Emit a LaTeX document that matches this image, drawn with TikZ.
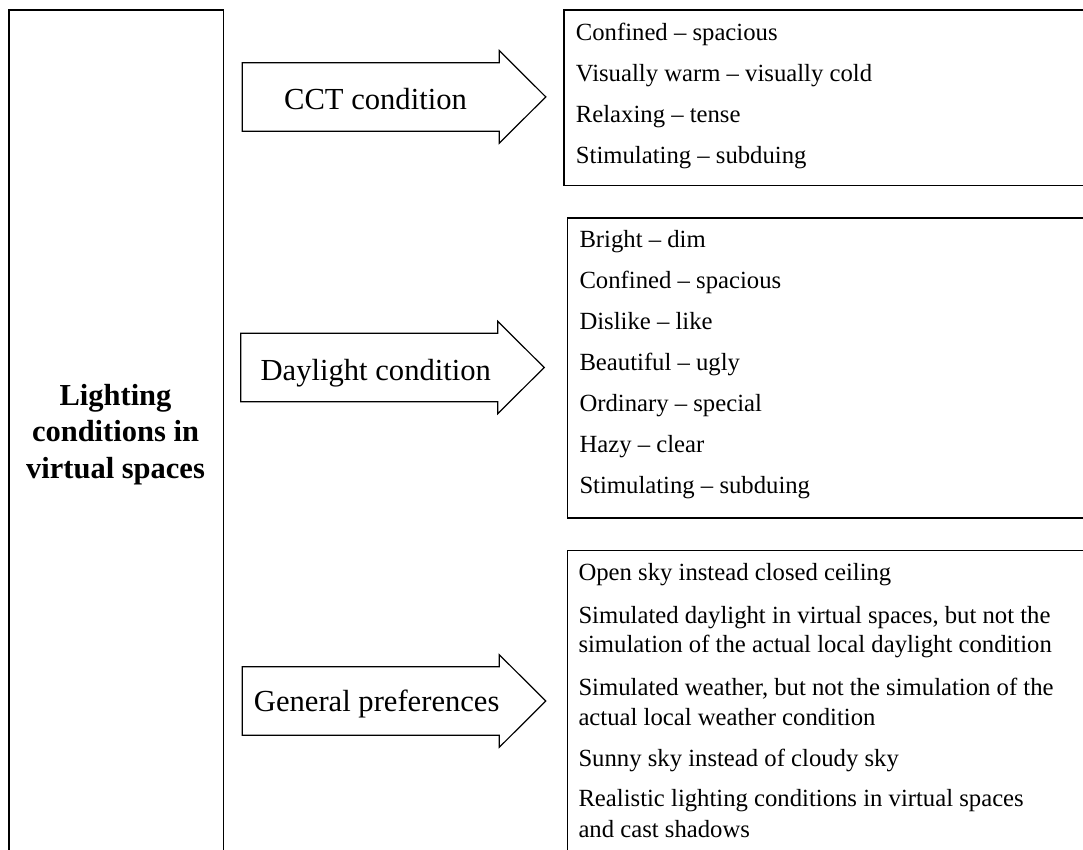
\documentclass[tikz,border=0pt]{standalone}
\usepackage{fontspec}
\setmainfont{Liberation Serif}
\begin{document}
\begin{tikzpicture}[x=1pt,y=-1pt,
  frame/.style={draw=black, line width=1.2pt, inner sep=0pt, anchor=north west},
  blockarrow/.style={draw=black, line width=1.2pt, fill=white, line join=miter},
  item/.style={anchor=base west, inner sep=0pt, font=\fontsize{24.7}{29.6}\selectfont},
  arrowlabel/.style={anchor=base, inner sep=0pt, font=\fontsize{30.6}{36.7}\selectfont},
  titleline/.style={anchor=base, inner sep=0pt, font=\fontsize{30.5}{36.6}\selectfont\bfseries}]

\clip (0,0) rectangle (1083,849);

% main topic column (runs past the lower edge)
\node[frame, minimum width=214.4pt, minimum height=900pt] (topic) at (8.3,9.3) {};
\node[titleline] (t1) at (115.5,405) {Lighting};
\node[titleline] (t2) at (115.5,441.7) {conditions in};
\node[titleline] (t3) at (115.5,478.3) {virtual spaces};

% block arrows: tail centre, shaft 68.5 high, head 92.5 high, 303.5 long
\coordinate (a1) at (242.3,96.9);
\coordinate (a2) at (240.7,367.5);
\coordinate (a3) at (242.3,701);
\foreach \a in {a1,a2,a3}
  \draw[blockarrow] (\a) ++(0,-34.25) -- ++(257,0) -- ++(0,-12) -- ++(46.5,46.25)
    -- ++(-46.5,46.25) -- ++(0,-12) -- ++(-257,0) -- cycle;
\node[arrowlabel] (l1) at (375.5,109.3) {CCT condition};
\node[arrowlabel] (l2) at (375.8,380) {Daylight condition};
\node[arrowlabel] (l3) at (376.7,711.7) {General preferences};

% attribute lists (boxes open to the right edge)
\node[frame, minimum width=530pt, minimum height=175.4pt] (b1) at (563.3,9.3) {};
\node[item] (c1) at (575.7,40.7) {Confined – spacious};
\node[item] (c2) at (575.7,81.7) {Visually warm – visually cold};
\node[item] (c3) at (575.7,122.7) {Relaxing – tense};
\node[item] (c4) at (575.7,163.5) {Stimulating – subduing};

\node[frame, minimum width=530pt, minimum height=300pt] (b2) at (566.7,217.3) {};
\node[item] (d1) at (579.3,247.3) {Bright – dim};
\node[item] (d2) at (579.3,288.3) {Confined – spacious};
\node[item] (d3) at (579.3,329.3) {Dislike – like};
\node[item] (d4) at (579.3,370.4) {Beautiful – ugly};
\node[item] (d5) at (579.3,411.5) {Ordinary – special};
\node[item] (d6) at (579.3,452.6) {Hazy – clear};
\node[item] (d7) at (579.3,493.8) {Stimulating – subduing};

\node[frame, minimum width=530pt, minimum height=350pt] (b3) at (566.7,550) {};
\node[item] (g1) at (578.3,580) {Open sky instead closed ceiling};
\node[item] (g2) at (578.3,623.3) {Simulated daylight in virtual spaces, but not the};
\node[item] (g2b) at (578.3,652.5) {simulation of the actual local daylight condition};
\node[item] (g3) at (578.3,695) {Simulated weather, but not the simulation of the};
\node[item] (g3b) at (578.3,725) {actual local weather condition};
\node[item] (g4) at (578.3,766.7) {Sunny sky instead of cloudy sky};
\node[item] (g5) at (578.3,806.7) {Realistic lighting conditions in virtual spaces};
\node[item] (g5b) at (578.3,837) {and cast shadows};
\end{tikzpicture}
\end{document}
